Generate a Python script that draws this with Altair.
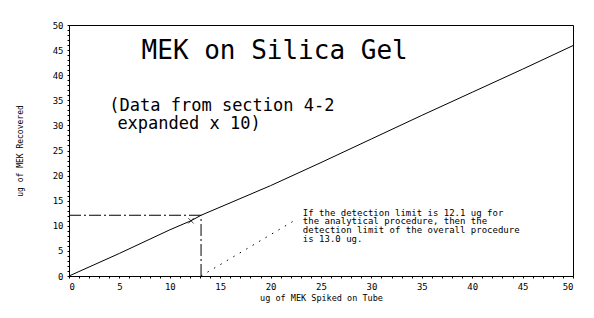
import altair as alt
import pandas as pd

# recovery curve
spiked = [0, 5, 10, 12.1, 13.1, 20, 25, 30, 35, 40, 45, 50]
recovered = [0, 4.5, 9.2, 11.0, 12.1, 18.0, 22.6, 27.3, 32.0, 36.6, 41.2, 45.9]

# detection limit construction
det_x = [0, 13.1]
det_y = [12.1, 12.1]
vert_x = [13.1, 13.1]
vert_y = [0, 12.1]
pointer_x = [13.1, 22.4]
pointer_y = [0, 11.1]
mark_x = [12.1]
mark_y = [11.0]

tick_values = list(range(0, 51))

title_text = ["MEK on Silica Gel"]
sub_text = ["(Data from section 4-2", "expanded x 10)"]
note_text = [
    "If the detection limit is 12.1 ug for",
    "the analytical procedure, then the",
    "detection limit of the overall procedure",
    "is 13.0 ug.",
]

FONT = "DejaVu Sans Mono"


def X():
    return alt.X(
        "x:Q",
        scale=alt.Scale(domain=[0, 50], nice=False, zero=True),
        title="ug of MEK Spiked on Tube",
        axis=alt.Axis(
            values=tick_values,
            labelExpr="datum.value % 5 == 0 ? datum.label : ''",
            labelOverlap=False,
            tickSize=2, grid=False, domainColor="black", tickColor="black",
            labelFont=FONT, labelFontSize=9, labelColor="black", labelPadding=4,
            titleFont=FONT, titleFontSize=8.5, titleFontWeight="normal", titleColor="black",
            titlePadding=2,
        ),
    )


def Y():
    return alt.Y(
        "y:Q",
        scale=alt.Scale(domain=[0, 50], nice=False, zero=True),
        title="ug of MEK Recovered",
        axis=alt.Axis(
            values=tick_values,
            labelExpr="datum.value % 5 == 0 ? datum.label : ''",
            labelOverlap=False,
            tickSize=2, grid=False, domainColor="black", tickColor="black",
            labelFont=FONT, labelFontSize=9, labelColor="black", labelPadding=4,
            titleFont=FONT, titleFontSize=8, titleFontWeight="normal", titleColor="black",
            titlePadding=28,
        ),
    )


line = alt.Chart(pd.DataFrame({"x": spiked, "y": recovered})).mark_line(
    color="black", strokeWidth=1
).encode(x=X(), y=Y())

hline = alt.Chart(pd.DataFrame({"x": det_x, "y": det_y})).mark_line(
    color="black", strokeWidth=1, strokeDash=[12, 3, 2, 3]
).encode(x=X(), y=Y())

vline = alt.Chart(pd.DataFrame({"x": vert_x, "y": vert_y})).mark_line(
    color="black", strokeWidth=1, strokeDash=[12, 3, 2, 3]
).encode(x=X(), y=Y())

pointer = alt.Chart(pd.DataFrame({"x": pointer_x, "y": pointer_y})).mark_line(
    color="black", strokeWidth=1, strokeDash=[1.5, 6]
).encode(x=X(), y=Y())

xmark = alt.Chart(pd.DataFrame({"x": mark_x, "y": mark_y})).mark_point(
    shape="M-1,-1L1,1M-1,1L1,-1", size=30, stroke="black", strokeWidth=1, filled=False
).encode(x=X(), y=Y())

title = alt.Chart(pd.DataFrame({"x": [7.2], "y": [43.2], "t": title_text})).mark_text(
    font=FONT, fontSize=26, align="left", baseline="alphabetic", color="black"
).encode(x=X(), y=Y(), text="t:N")

sub = alt.Chart(pd.DataFrame({"x": [4.0, 4.8], "y": [32.8, 29.2], "t": sub_text})).mark_text(
    font=FONT, fontSize=17, align="left", baseline="alphabetic", color="black"
).encode(x=X(), y=Y(), text="t:N")

note = alt.Chart(pd.DataFrame({"x": [23.2] * 4, "y": [11.95, 10.26, 8.57, 6.87], "t": note_text})).mark_text(
    font=FONT, fontSize=9, align="left", baseline="alphabetic", color="black"
).encode(x=X(), y=Y(), text="t:N")

chart = alt.layer(line, hline, vline, pointer, xmark, title, sub, note).properties(
    width=504, height=251,
    autosize=alt.AutoSizeParams(type="none"),
    padding={"left": 69, "top": 25, "right": 21, "bottom": 42},
    background="white",
).configure_view(stroke="black", strokeWidth=1)

chart.save("out.html", embed_options={"renderer": "svg", "actions": False})
